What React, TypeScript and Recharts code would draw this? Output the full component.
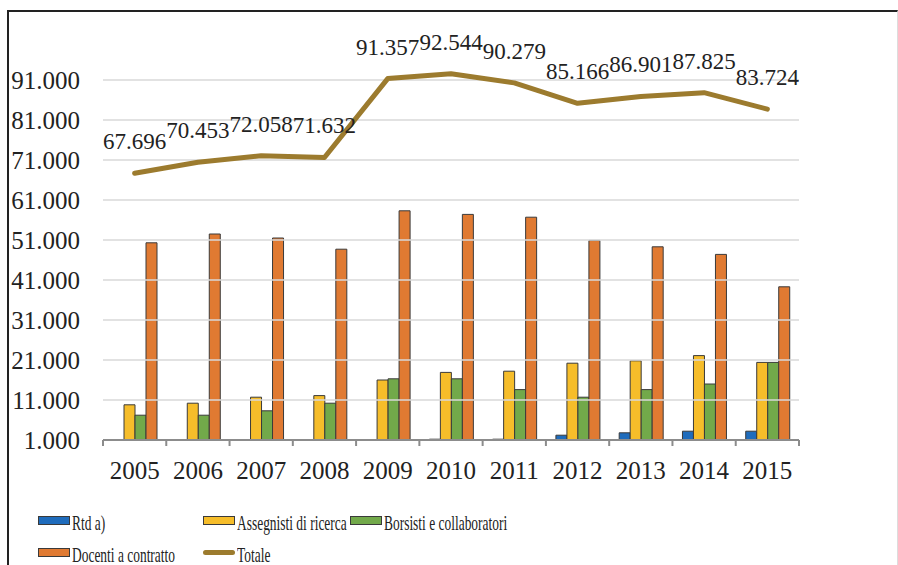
import React from 'react';
import {
  ComposedChart,
  Bar,
  Line,
  XAxis,
  YAxis,
  ReferenceLine,
  LabelList
} from 'recharts';

const years = ['2005', '2006', '2007', '2008', '2009', '2010', '2011', '2012', '2013', '2014', '2015'];
const rtd = [null, null, null, null, null, 1200, 1200, 2200, 2800, 3200, 3200];
const assegnisti = [9800, 10200, 11700, 12100, 16000, 17900, 18200, 20200, 20800, 22100, 20400];
const borsisti = [7200, 7200, 8300, 10200, 16300, 16300, 13600, 11700, 13600, 15000, 20400];
const docenti = [50300, 52500, 51500, 48700, 58300, 57400, 56700, 50900, 49300, 47400, 39300];
const totale = [67696, 70453, 72058, 71632, 91357, 92544, 90279, 85166, 86901, 87825, 83724];
const yTicks = [1000, 11000, 21000, 31000, 41000, 51000, 61000, 71000, 81000, 91000];

const data = years.map((y, i) => ({
  year: y,
  rtd: rtd[i],
  assegnisti: assegnisti[i],
  borsisti: borsisti[i],
  docenti: docenti[i],
  totale: totale[i]
}));

const FONT = '"Liberation Serif", "Times New Roman", serif';
const OUTLINE = '#3a3a3a';
const AXIS = '#8c8c8c';

const W = 898;
const MARGIN = { top: 40, right: 99, left: 0, bottom: 0 };
const Y_WIDTH = 103;
const HALF_BAND = (W - MARGIN.right - Y_WIDTH) / years.length / 2;

// italian style thousands: 91000 -> 91.000
const fmt = (v: any) => String(v).replace(/\B(?=(\d{3})+(?!\d))/g, '.');

// excel puts tick marks between categories, not under them
function YearTick(props: any) {
  const { x, y, payload, index } = props;
  const last = index === years.length - 1;
  return (
    <g>
      <line x1={x - HALF_BAND} x2={x - HALF_BAND} y1={y} y2={y + 6} stroke={AXIS} strokeWidth={2} />
      {last && <line x1={x + HALF_BAND} x2={x + HALF_BAND} y1={y} y2={y + 6} stroke={AXIS} strokeWidth={2} />}
      <text x={x} y={y + 21} dy="0.71em" textAnchor="middle" fontFamily={FONT} fontSize={25} fill="#222">
        {payload.value}
      </text>
    </g>
  );
}

const legendRows = [
  [
    { name: 'Rtd a)', color: '#1f6cbc', type: 'rect' },
    { name: 'Assegnisti di ricerca', color: '#f6bd2a', type: 'rect' },
    { name: 'Borsisti e collaboratori', color: '#72a94a', type: 'rect' }
  ],
  [
    { name: 'Docenti a contratto', color: '#e07a32', type: 'rect' },
    { name: 'Totale', color: '#9c7b2e', type: 'line' }
  ]
];
const legendCols = [38, 203, 350];

function LegendItem({ item, left, top }: { item: any; left: number; top: number }) {
  return (
    <div style={{ position: 'absolute', left, top, display: 'flex', alignItems: 'center', height: 24 }}>
      {item.type === 'rect' ? (
        <div style={{ width: 30, height: 7, marginTop: -6, background: item.color, border: `1px solid ${OUTLINE}` }} />
      ) : (
        <div style={{ width: 32, height: 5, marginTop: -6, background: item.color, borderRadius: 3 }} />
      )}
      <span
        style={{
          display: 'inline-block',
          marginLeft: 2,
          fontFamily: FONT,
          fontSize: 21,
          color: '#222',
          whiteSpace: 'nowrap',
          transform: 'scaleX(0.64)',
          transformOrigin: 'left center'
        }}
      >
        {item.name}
      </span>
    </div>
  );
}

export default function App() {
  return (
    <div style={{ position: 'fixed', left: 0, top: 0, width: 898, height: 565, background: '#fff', overflow: 'hidden' }}>
      {/* frame */}
      <div
        style={{
          position: 'absolute',
          left: 7,
          top: 10,
          width: 888,
          height: 600,
          borderTop: '2px solid #222',
          borderLeft: '2px solid #222',
          borderRight: '1px solid #ddd'
        }}
      />
      <div style={{ position: 'absolute', left: 0, top: 0 }}>
        <ComposedChart
          width={W}
          height={490}
          data={data}
          margin={MARGIN}
          barCategoryGap="15%"
          barGap={0}
        >
          {/* horizontal gridlines only */}
          {yTicks.slice(1).map(t => (
            <ReferenceLine key={t} y={t} stroke="#d9d9d9" strokeWidth={1.5} />
          ))}
          <XAxis
            dataKey="year"
            height={50}
            axisLine={{ stroke: AXIS, strokeWidth: 2 }}
            tickLine={false}
            tickSize={0}
            tickMargin={0}
            tick={<YearTick />}
            interval={0}
          />
          <YAxis
            width={Y_WIDTH}
            domain={[1000, 101000]}
            ticks={yTicks}
            allowDataOverflow
            axisLine={false}
            tickLine={false}
            tickSize={0}
            tickMargin={23}
            tickFormatter={fmt}
            tick={{ fontFamily: FONT, fontSize: 25, fill: '#222' }}
          />
          <Bar dataKey="rtd" fill="#1f6cbc" stroke={OUTLINE} strokeWidth={1} barSize={11} isAnimationActive={false} />
          <Bar dataKey="assegnisti" fill="#f6bd2a" stroke={OUTLINE} strokeWidth={1} barSize={11} isAnimationActive={false} />
          <Bar dataKey="borsisti" fill="#72a94a" stroke={OUTLINE} strokeWidth={1} barSize={11} isAnimationActive={false} />
          <Bar dataKey="docenti" fill="#e07a32" stroke={OUTLINE} strokeWidth={1} barSize={11} isAnimationActive={false} />
          <Line
            dataKey="totale"
            type="linear"
            stroke="#9c7b2e"
            strokeWidth={5}
            strokeLinejoin="round"
            strokeLinecap="round"
            dot={false}
            activeDot={false}
            isAnimationActive={false}
          >
            <LabelList
              dataKey="totale"
              position="top"
              offset={24}
              formatter={fmt}
              style={{ fontFamily: FONT, fontSize: 23, fill: '#222' }}
            />
          </Line>
        </ComposedChart>
      </div>
      {legendRows.map((row, r) =>
        row.map((item, c) => (
          <LegendItem key={item.name} item={item} left={legendCols[c]} top={511 + r * 32} />
        ))
      )}
    </div>
  );
}
